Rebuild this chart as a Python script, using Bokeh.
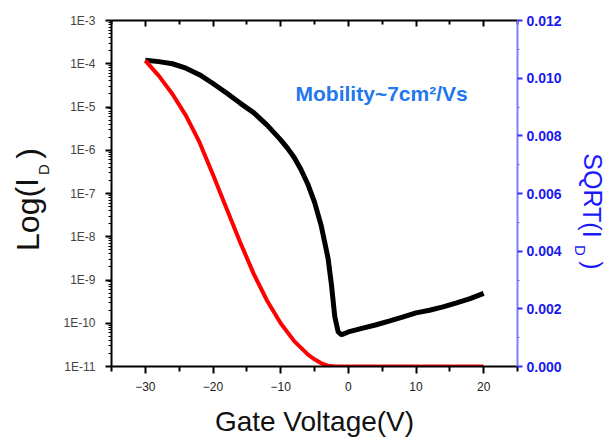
from bokeh.plotting import figure
from bokeh.layouts import row
from bokeh.models import (Range1d, LinearAxis, LinearScale, Label, FixedTicker,
                          CustomJSTickFormatter, NumeralTickFormatter)
from bokeh.core.properties import value
from bokeh.embed import file_html
from bokeh.resources import INLINE

# ---- data ----
gate_v_log = [-30, -28, -26, -24, -22, -20, -18, -16, -14, -12, -10, -9, -8, -7,
              -6, -5, -4, -3, -2.5, -2, -1.5, -1, 0, 2, 4, 6, 8, 10, 12, 14,
              16, 18, 20]
drain_current = [1.20e-4, 1.12e-4, 1.0e-4, 7.9e-5, 5.6e-5, 3.5e-5, 2.1e-5, 1.23e-5,
                 7.4e-6, 3.8e-6, 1.74e-6, 1.12e-6, 6.8e-7, 3.6e-7, 1.66e-7, 6.3e-8,
                 1.78e-8, 3.2e-9, 7.9e-10, 1.41e-10, 6.3e-11, 5.4e-11, 6.3e-11,
                 7.6e-11, 9.1e-11, 1.12e-10, 1.38e-10, 1.74e-10, 2.0e-10, 2.4e-10,
                 2.95e-10, 3.7e-10, 4.9e-10]

gate_v_sqrt = [-30, -28, -26, -24, -22, -20, -18, -16, -14, -12, -10, -8, -6,
               -5, -4, -3, -2, 0, 5, 10, 15, 20]
sqrt_id = [0.01061, 0.01008, 0.00945, 0.00870, 0.00778, 0.00665, 0.00548,
           0.00432, 0.00322, 0.00228, 0.00150, 0.00088, 0.00042, 0.00025,
           0.00011, 0.00003, 0.0, 0.0, 0.0, 0.0, 0.0, 0.0]

x_ticks = [-30, -20, -10, 0, 10, 20]
x_minor_ticks = [-35, -25, -15, -5, 5, 15, 25]
log_ticks = [1e-11, 1e-10, 1e-9, 1e-8, 1e-7, 1e-6, 1e-5, 1e-4, 1e-3]
sqrt_ticks = [0.0, 0.002, 0.004, 0.006, 0.008, 0.010, 0.012]
sqrt_minor_ticks = [0.001, 0.003, 0.005, 0.007, 0.009, 0.011]

FONT = "Liberation Sans"
H = 436
LEFT_W = 60
MAIN_RIGHT_BORDER = 48
RIGHT_X0 = 111 + 406 + MAIN_RIGHT_BORDER
RIGHT_W = 42


def side_fig(w):
    f = figure(title=None, frame_width=w, frame_height=H, x_range=Range1d(0, w),
               y_range=Range1d(0, H), x_axis_location=None, y_axis_location=None,
               output_backend="svg", toolbar_location=None, min_border=0)
    f.min_border_left = 0
    f.min_border_right = 0
    f.min_border_top = 0
    f.min_border_bottom = 0
    f.outline_line_color = None
    f.xgrid.visible = False
    f.ygrid.visible = False
    return f


p = figure(title=None, frame_width=406, frame_height=346, x_range=(-35, 25),
           y_range=(1e-11, 1e-3), y_axis_type="log",
           output_backend="svg", toolbar_location=None,
           min_border_left=111 - LEFT_W, min_border_right=MAIN_RIGHT_BORDER,
           min_border_top=20, min_border_bottom=H - 20 - 346)
p.outline_line_color = None
p.xgrid.visible = False
p.ygrid.visible = False

p.extra_y_ranges = {"sqrt": Range1d(0, 0.012)}
p.extra_y_scales = {"sqrt": LinearScale()}

# bottom axis
xa = p.xaxis[0]
xa.ticker = FixedTicker(ticks=x_ticks, minor_ticks=x_minor_ticks)
xa.axis_line_width = 2
xa.axis_line_color = "black"
xa.major_tick_out = 7
xa.major_tick_in = 0
xa.minor_tick_out = 5
xa.minor_tick_in = 0
xa.major_tick_line_width = 2
xa.minor_tick_line_width = 2
xa.major_label_standoff = 8
xa.major_label_text_font = FONT
xa.major_label_text_font_size = "12px"
xa.major_label_text_color = "#222222"
xa.axis_label = "Gate Voltage(V)"
xa.axis_label_text_font = FONT
xa.axis_label_text_font_style = "normal"
xa.axis_label_text_font_size = "28px"
xa.axis_label_text_color = "#111111"
xa.axis_label_standoff = 12

# left axis
ya = p.yaxis[0]
minor_log = [m * 10.0 ** e for e in range(-11, -3) for m in range(2, 10)]
ya.ticker = FixedTicker(ticks=log_ticks, minor_ticks=minor_log)
ya.formatter = CustomJSTickFormatter(code="return '1E' + Math.round(Math.log10(tick));")
ya.axis_line_width = 2
ya.axis_line_color = "black"
ya.major_tick_out = 6
ya.major_tick_in = 0
ya.minor_tick_out = 3
ya.minor_tick_in = 0
ya.major_tick_line_width = 2
ya.minor_tick_line_width = 1
ya.major_label_standoff = 10
ya.major_label_text_font = FONT
ya.major_label_text_font_size = "12px"
ya.major_label_text_color = "#444444"
ya.axis_label = None

# top axis (ticks only)
ta = LinearAxis(ticker=FixedTicker(ticks=x_ticks, minor_ticks=x_minor_ticks),
                formatter=CustomJSTickFormatter(code="return '';"))
ta.axis_line_width = 2
ta.axis_line_color = "black"
ta.major_tick_in = 6
ta.major_tick_out = 0
ta.minor_tick_in = 4
ta.minor_tick_out = 0
ta.major_tick_line_width = 2
ta.minor_tick_line_width = 2
ta.major_label_text_color = None
ta.major_label_standoff = 0
p.add_layout(ta, "above")

# right axis
ra = LinearAxis(y_range_name="sqrt",
                ticker=FixedTicker(ticks=sqrt_ticks, minor_ticks=sqrt_minor_ticks),
                formatter=NumeralTickFormatter(format="0.000"))
ra.axis_line_width = 2
ra.axis_line_color = "#8080ff"
ra.major_tick_out = 5
ra.major_tick_in = 0
ra.minor_tick_out = 2
ra.minor_tick_in = 0
ra.major_tick_line_color = "#3030ff"
ra.minor_tick_line_color = "#6060ff"
ra.major_tick_line_width = 2
ra.major_label_standoff = 4
ra.major_label_text_font = FONT
ra.major_label_text_font_size = "14px"
ra.major_label_text_font_style = "bold"
ra.major_label_text_color = "#1a1aee"
p.add_layout(ra, "right")

# curves
p.line(gate_v_log, drain_current, line_color="black", line_width=5)
p.line(gate_v_sqrt, sqrt_id, line_color="#ff0000", line_width=4, y_range_name="sqrt")

# annotation text
p.add_layout(Label(x=-7.8, y=2.0e-5, text="Mobility~7cm²/Vs", text_font=FONT,
                   text_font_size="21px", text_font_style="bold",
                   text_color="#2277ee", text_baseline="middle", text_align="left"))


def side_text(fig, sx, sy, txt, size, color, angle):
    fig.text(x=[sx], y=[H - sy], text=[txt], angle=angle, text_font=value(FONT),
             text_font_size=size, text_color=color, text_baseline="middle",
             text_align="center")


# left axis title Log(I_D)
lf = side_fig(LEFT_W)
side_text(lf, 27, 194, "Log(I", "32px", "#111111", 1.5708)
side_text(lf, 43, 149, "D", "15px", "#111111", 1.5708)
side_text(lf, 27, 133, ")", "32px", "#111111", 1.5708)

# right axis title SQRT(I_D)
rf = side_fig(RIGHT_W)
side_text(rf, 592 - RIGHT_X0, 175, "SQRT(I", "25px", "#1a1aff", -1.5708)
side_text(rf, 580 - RIGHT_X0, 230, "D", "15px", "#1a1aff", -1.5708)
side_text(rf, 592 - RIGHT_X0, 245, ")", "25px", "#1a1aff", -1.5708)

layout = row(lf, p, rf, spacing=0)
open("out.html", "w").write(file_html(layout, INLINE))
